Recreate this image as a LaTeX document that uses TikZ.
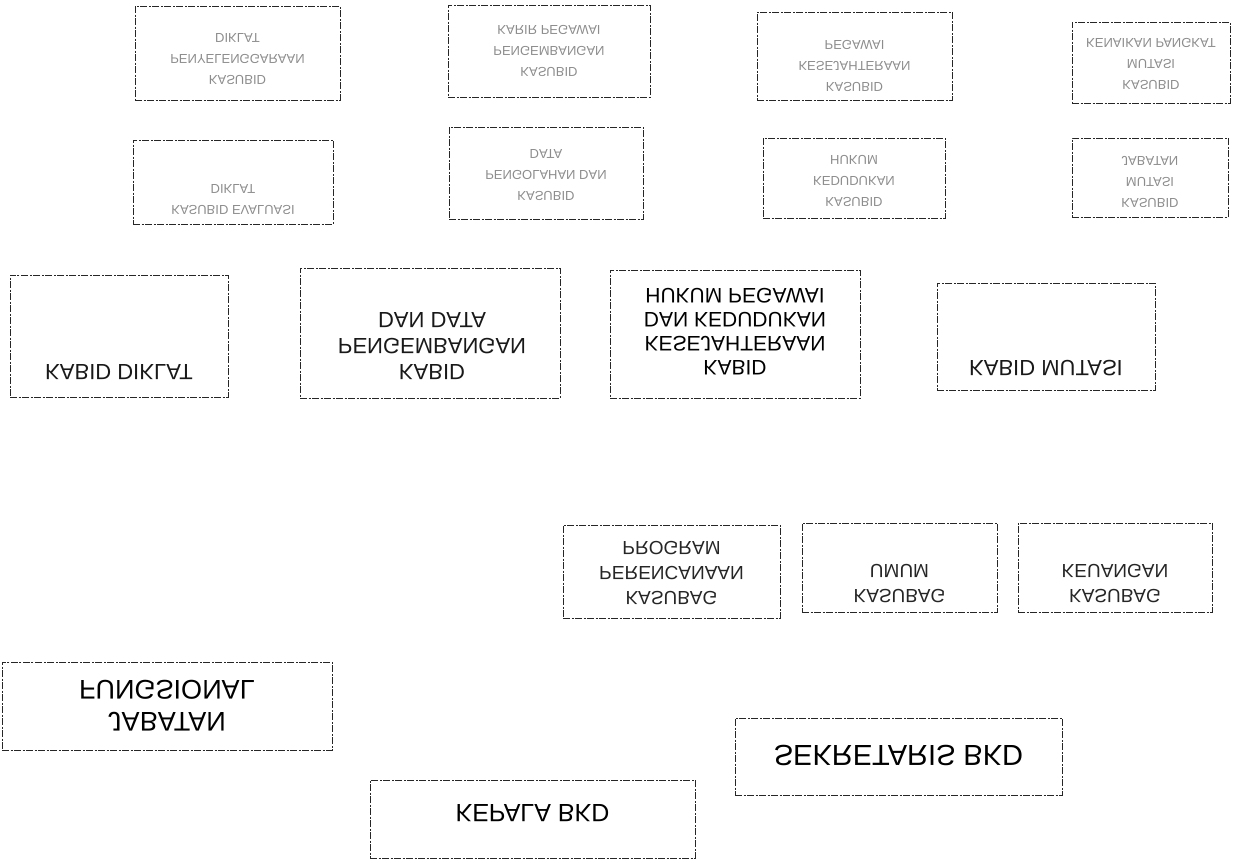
\documentclass[tikz,border=0pt]{standalone}
\usepackage{fontspec}
\setmainfont{Liberation Sans}

\tikzset{
  box/.style={draw=black!85, line width=0.9pt, dash pattern=on 7pt off 1.5pt on 2pt off 1.5pt, inner sep=0pt},
  flip/.style={yscale=-1, align=center, inner sep=0pt},
  big/.style={font=\fontsize{22}{26}\selectfont, text=black!90},
  mid/.style={font=\fontsize{19}{25}\selectfont, text=black!85},
  small/.style={font=\fontsize{13}{21}\selectfont, text=black!45},
}

\begin{document}
\begin{tikzpicture}[x=1pt, y=-1pt]
    \useasboundingbox (0,0) rectangle (1239,860);
    % kasubid, baris atas
    \node[box, minimum width=205, minimum height=94] (sb1) at (237.5,53) {};
    \node[flip, small] (sb1t) at (237.5,59) {KASUBID\\PENYELENGGARAAN\\DIKLAT};
    \node[box, minimum width=202, minimum height=92] (sb2) at (549,51) {};
    \node[flip, small] (sb2t) at (549,51) {KASUBID\\PENGEMBANGAN\\KARIR PEGAWAI};
    \node[box, minimum width=195, minimum height=88] (sb3) at (854.5,56) {};
    \node[flip, small] (sb3t) at (854.5,66) {KASUBID\\KESEJAHTERAAN\\PEGAWAI};
    \node[box, minimum width=158, minimum height=81] (sb4) at (1151,62.5) {};
    \node[flip, small] (sb4t) at (1151,64) {KASUBID\\MUTASI\\KENAIKAN PANGKAT};
    % kasubid, baris kedua
    \node[box, minimum width=200, minimum height=84] (sb5) at (233,182) {};
    \node[flip, small] (sb5t) at (233,200) {KASUBID EVALUASI\\DIKLAT};
    \node[box, minimum width=194, minimum height=92] (sb6) at (546,173) {};
    \node[flip, small] (sb6t) at (546,175) {KASUBID\\PENGOLAHAN DAN\\DATA};
    \node[box, minimum width=182, minimum height=80] (sb7) at (854,178) {};
    \node[flip, small] (sb7t) at (854,181) {KASUBID\\KEDUDUKAN\\HUKUM};
    \node[box, minimum width=156, minimum height=79] (sb8) at (1150,177.5) {};
    \node[flip, small] (sb8t) at (1150,182) {KASUBID\\MUTASI\\JABATAN};
    % kabid
    \node[box, minimum width=218, minimum height=122] (kb1) at (119,336) {};
    \node[flip, big] (kb1t) at (119,372) {KABID DIKLAT};
    \node[box, minimum width=260, minimum height=130] (kb2) at (430,333) {};
    \node[flip, big] (kb2t) at (432,346) {KABID\\PENGEMBANGAN\\DAN DATA};
    \node[box, minimum width=250, minimum height=128] (kb3) at (735,334) {};
    \node[flip, font=\fontsize{21}{24}\selectfont] (kb3t) at (735,332) {KABID\\KESEJAHTERAAN\\DAN KEDUDUKAN\\HUKUM PEGAWAI};
    \node[box, minimum width=218, minimum height=107] (kb4) at (1046,336.5) {};
    \node[flip, big] (kb4t) at (1046,368) {KABID MUTASI};
    % kasubag
    \node[box, minimum width=217, minimum height=93] (sg1) at (671.5,571.5) {};
    \node[flip, mid] (sg1t) at (671.5,573) {KASUBAG\\PERENCANAAN\\PROGRAM};
    \node[box, minimum width=195, minimum height=89] (sg2) at (899.5,567.5) {};
    \node[flip, mid] (sg2t) at (899.5,584) {KASUBAG\\UMUM};
    \node[box, minimum width=194, minimum height=89] (sg3) at (1115,567.5) {};
    \node[flip, mid] (sg3t) at (1115,584) {KASUBAG\\KEUANGAN};
    % pimpinan
    \node[box, minimum width=330, minimum height=88] (jf) at (167,706) {};
    \node[flip, font=\fontsize{27}{32}\selectfont] (jft) at (167,706) {JABATAN\\FUNGSIONAL};
    \node[box, minimum width=327, minimum height=77] (sk) at (898.5,756.5) {};
    \node[flip, font=\fontsize{29}{34}\selectfont] (skt) at (898.5,755) {SEKRETARIS BKD};
    \node[box, minimum width=325, minimum height=78] (kp) at (532.5,819) {};
    \node[flip, font=\fontsize{25}{30}\selectfont] (kpt) at (532.5,813) {KEPALA BKD};
\end{tikzpicture}
\end{document}
